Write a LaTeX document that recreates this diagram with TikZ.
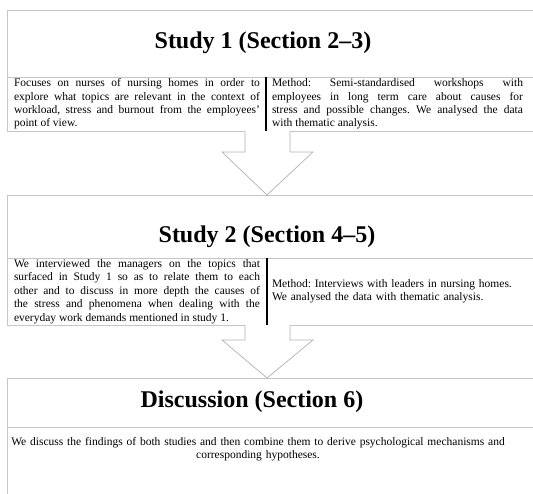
\documentclass[tikz,border=0pt]{standalone}
\usepackage{fontspec}
\setmainfont{Liberation Serif}
\usepackage{tikz}
\usepackage{xcolor}
\frenchspacing

\begin{document}
\begin{tikzpicture}[x=1pt, y=-1pt,
    boxline/.style={draw=gray!45, line width=0.8pt},
    divider/.style={draw=black, line width=1.8pt},
    blockarrow/.style={draw=gray!60, fill=white, line width=0.7pt},
    headtxt/.style={font=\fontsize{24}{28}\selectfont\bfseries, inner sep=0pt},
    bodytxt/.style={font=\fontsize{11.5}{13.4}\selectfont\frenchspacing, inner sep=0pt, align=justify}]
    \useasboundingbox (0,0) rectangle (533,493);

    % Study 1
    \draw[boxline] (540,10) -- (7,10) -- (7,131) -- (540,131);
    \draw[boxline] (7,77) -- (540,77);
    \draw[divider] (266,77) -- (266,131);
    \node[headtxt] (s1head) at (263,43) {Study 1 (Section 2--3)};
    \node[bodytxt, text width=246pt] (s1left) at (137,104)
        {Focuses on nurses of nursing homes in order to\linebreak
         explore what topics are relevant in the context of\linebreak
         workload, stress and burnout from the employees'\linebreak
         point of view.};
    \node[bodytxt, text width=251pt] (s1right) at (397.5,104)
        {Method: Semi-standardised workshops with\linebreak
         employees in long term care about causes for\linebreak
         stress and possible changes. We analysed the data\linebreak
         with thematic analysis.};

    % arrow 1
    \draw[blockarrow] (245,131) -- (245,152) -- (222,152) -- (267,195)
        -- (313,152) -- (290,152) -- (290,131);

    % Study 2
    \draw[boxline] (540,195) -- (7,195) -- (7,325) -- (540,325);
    \draw[boxline] (7,258) -- (540,258);
    \draw[divider] (267,258) -- (267,325);
    \node[headtxt] (s2head) at (267,237) {Study 2 (Section 4--5)};
    \node[bodytxt, text width=246pt] (s2left) at (137,291.5)
        {We interviewed the managers on the topics that\linebreak
         surfaced in Study 1 so as to relate them to each\linebreak
         other and to discuss in more depth the causes of\linebreak
         the stress and phenomena when dealing with the\linebreak
         everyday work demands mentioned in study 1.};
    \node[bodytxt, text width=251pt, align=left] (s2right) at (397.5,291.5)
        {Method: Interviews with leaders in nursing homes.\\
         We analysed the data with thematic analysis.};

    % arrow 2
    \draw[blockarrow] (245,325) -- (245,340) -- (222,340) -- (267,378)
        -- (313,340) -- (290,340) -- (290,325);

    % Discussion
    \draw[boxline] (540,378) -- (7,378) -- (7,500);
    \draw[boxline] (7,427) -- (540,427);
    \node[headtxt] (dhead) at (252,402) {Discussion (Section 6)};
    \node[bodytxt, text width=500pt, align=center] (dtext) at (258,449)
        {We discuss the findings of both studies and then combine them to derive psychological mechanisms and\\
         corresponding hypotheses.};
\end{tikzpicture}
\end{document}
